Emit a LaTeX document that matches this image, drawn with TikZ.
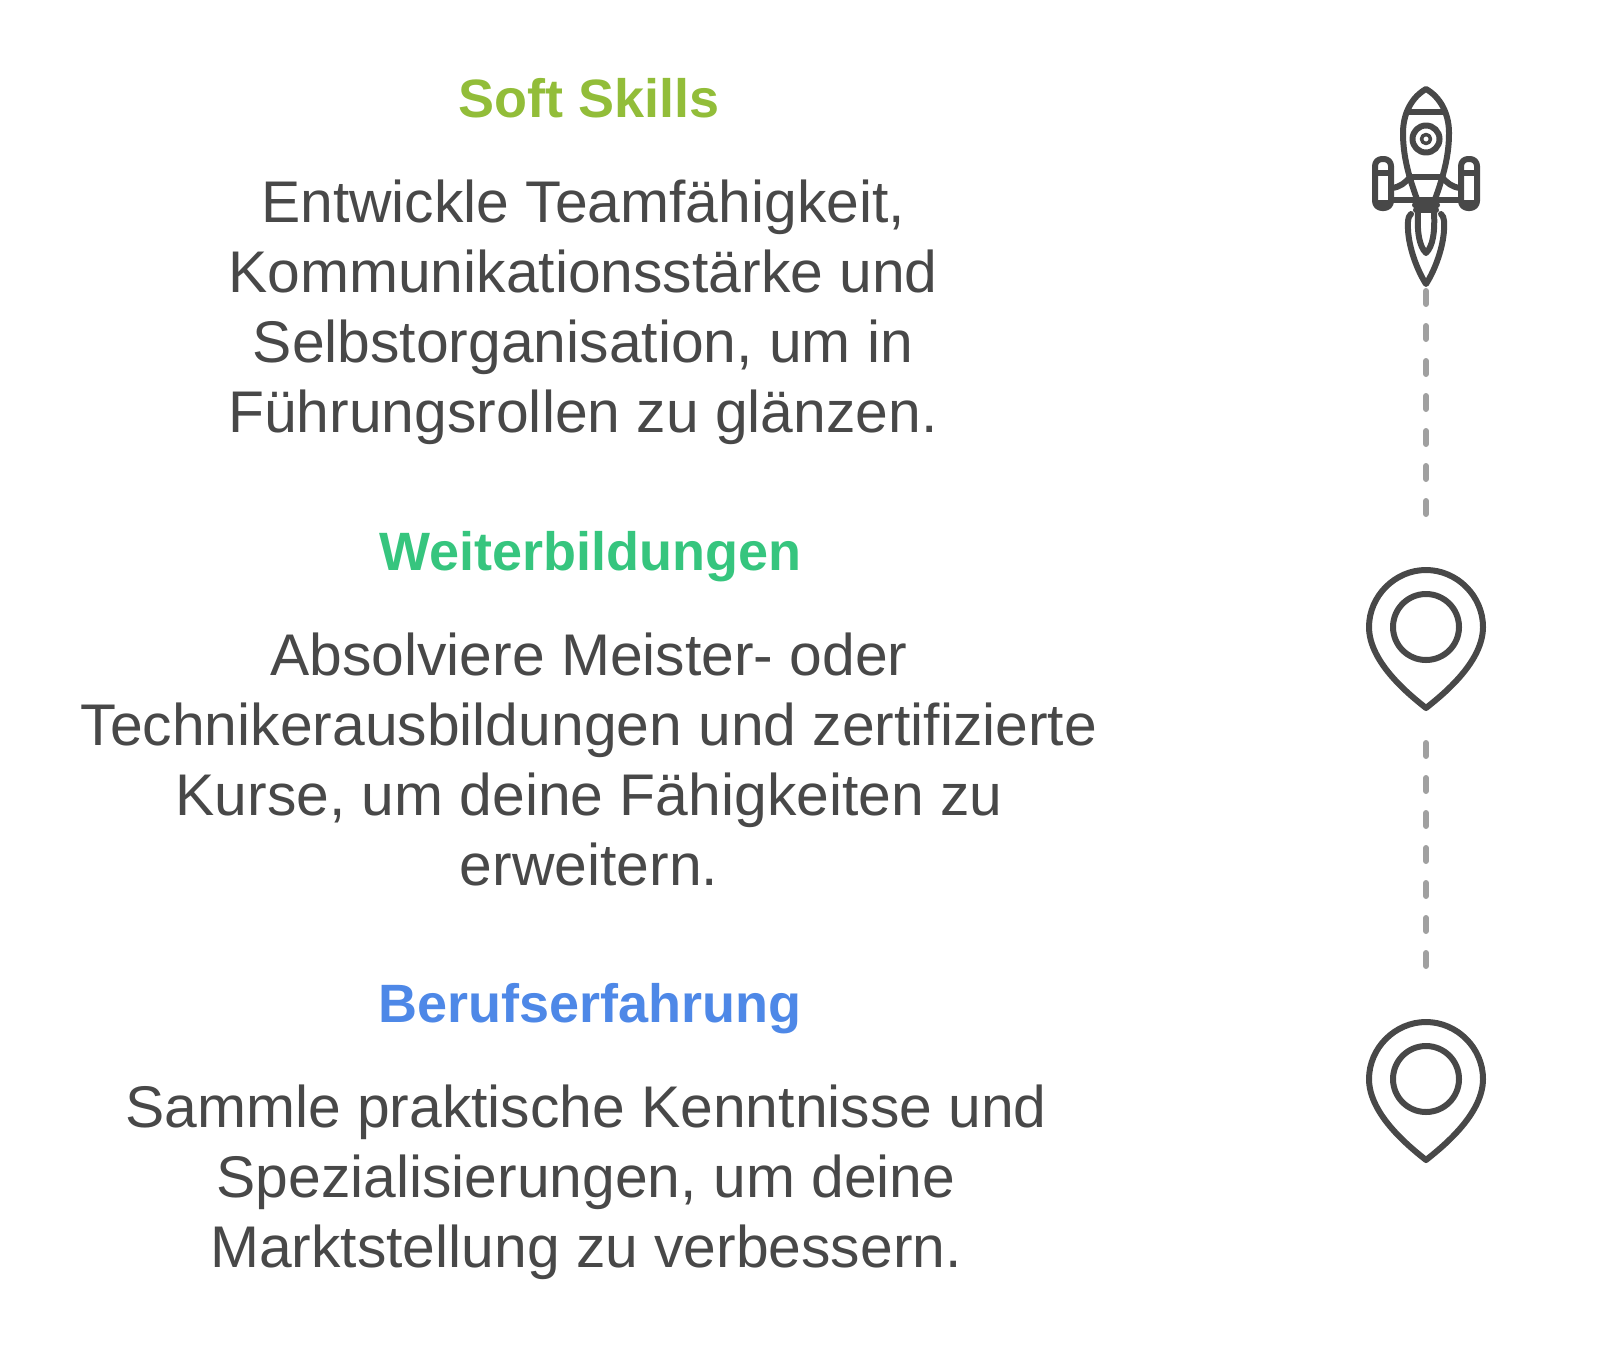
\documentclass[tikz,border=0pt]{standalone}
\usepackage{fontspec}
\setmainfont{Liberation Sans}
\tikzset{
  every picture/.style={x=1pt,y=-1pt},
  head/.style={anchor=center,inner sep=0pt,font=\fontsize{54}{70}\selectfont\bfseries},
  body/.style={anchor=center,inner sep=0pt,align=center,text=txt,font=\fontsize{58.8}{70}\selectfont},
  icon/.style={draw=txt,line width=6pt,line join=round,line cap=round},
  link/.style={draw=dashc,line width=6pt,line cap=round,dash pattern=on 13pt off 22pt},
}
\definecolor{txt}{HTML}{484848}
\definecolor{dashc}{HTML}{A0A0A0}
\definecolor{cgreen}{HTML}{92BD39}
\definecolor{cteal}{HTML}{36C57E}
\definecolor{cblue}{HTML}{4E88E7}
\begin{document}
\begin{tikzpicture}
\useasboundingbox (0,0) rectangle (1600,1352);
\node[head,text=cgreen] (h1) at (589,98) {Soft Skills};
\node[body] (b1) at (583,312) {Entwickle Teamfähigkeit,\\Kommunikationsstärke und\\Selbstorganisation, um in\\Führungsrollen zu glänzen.};
\node[head,text=cteal] (h2) at (590,556.5) {Weiterbildungen};
\node[body] (b2) at (589,759) {Absolviere Meister- oder\\Technikerausbildungen und zertifizierte\\Kurse, um deine Fähigkeiten zu\\erweitern.};
\node[head,text=cblue] (h3) at (590,1009) {Berufserfahrung};
\node[body] (b3) at (586,1182) {Sammle praktische Kenntnisse und\\Spezialisierungen, um deine\\Marktstellung zu verbessern.};
% rocket
\draw[icon] (1426,89) .. controls (1440,97) and (1449,113) .. (1449,133) .. controls (1449,155) and (1444,175) .. (1434,202) -- (1418,202) .. controls (1408,175) and (1403,155) .. (1403,133) .. controls (1403,113) and (1412,97) .. (1426,89) -- cycle;
\draw[icon] (1409,112) -- (1443,112) (1410,177) -- (1442,177);
\draw[icon] (1426,139) circle (13.5);
\draw[icon,line width=3.5pt] (1426,139) circle (4.5);
\draw[icon] (1392,200) -- (1460,200);
\draw[icon] (1392,188) .. controls (1400,187) and (1405,183) .. (1410,177);
\draw[icon] (1460,188) .. controls (1452,187) and (1447,183) .. (1442,177);
\draw[icon,rounded corners=7pt] (1375,159) rectangle (1391,208);
\draw[icon,rounded corners=7pt] (1461,159) rectangle (1477,208);
\draw[icon,line cap=butt] (1375,173) -- (1391,173) (1461,173) -- (1477,173);
\draw[icon,line cap=butt] (1376,203) -- (1390,203) (1462,203) -- (1476,203);
\draw[icon] (1415,205) -- (1437,205) (1416,210) -- (1436,210);
\draw[icon] (1411,214) .. controls (1407,217) and (1408,224) .. (1408,230) .. controls (1409,248) and (1417,270) .. (1426,284) .. controls (1435,270) and (1443,248) .. (1444,230) .. controls (1444,224) and (1445,217) .. (1441,214);
\draw[icon] (1418,212) .. controls (1417,232) and (1419,246) .. (1426,253) .. controls (1433,246) and (1435,232) .. (1434,212);
% pins
\coordinate (r1) at (1426,291);
\coordinate (p1t) at (1426,517);
\coordinate (p1b) at (1426,743);
\coordinate (p2t) at (1426,969);
\draw[link] (r1) -- (p1t);
\draw[link] (p1b) -- (p2t);
\path (1426,627) coordinate (c1) (1426,1079) coordinate (c2);
\foreach \c in {c1,c2}{
  \begin{scope}[shift={(\c)}]
    \draw[icon] (0,81) .. controls (-15,69) and (-57,36) .. (-57,0) .. controls (-57,-31) and (-31,-57) .. (0,-57) .. controls (31,-57) and (57,-31) .. (57,0) .. controls (57,36) and (15,69) .. (0,81) -- cycle;
    \draw[icon] (0,0) circle (33);
  \end{scope}
}
\end{tikzpicture}
\end{document}
